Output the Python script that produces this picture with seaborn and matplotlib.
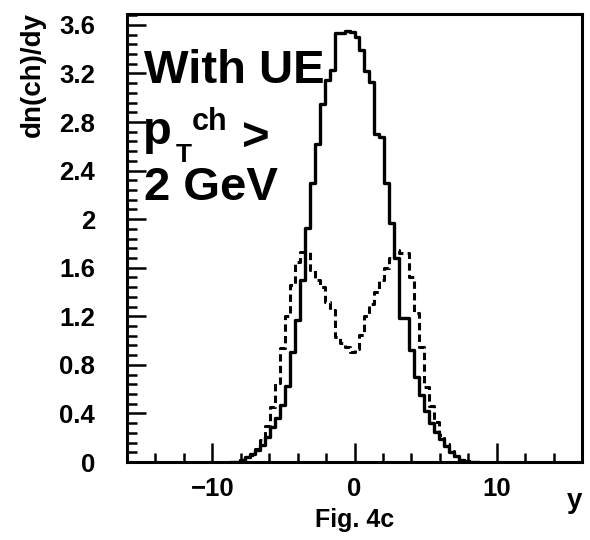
import numpy as np
import pandas as pd
import matplotlib
matplotlib.use("Agg")
import matplotlib.pyplot as plt
import seaborn as sns
from matplotlib.ticker import MultipleLocator

# ---------------- data ----------------
bin_edges = [round(k * 0.35, 3) for k in range(-25, 26)]          # 50 bins of width 0.35
bin_centers = [round((a + b) / 2, 4) for a, b in zip(bin_edges[:-1], bin_edges[1:])]

solid_curve = [0.00, 0.00, 0.02, 0.04, 0.07, 0.10, 0.14, 0.21, 0.29, 0.36,
               0.47, 0.63, 0.91, 1.17, 1.50, 1.93, 2.30, 2.62, 2.95, 3.15,
               3.23, 3.53, 3.53, 3.55, 3.54, 3.50, 3.39, 3.22, 3.13, 2.70,
               2.68, 2.30, 1.97, 1.68, 1.19, 1.19, 0.92, 0.70, 0.55, 0.42,
               0.32, 0.25, 0.19, 0.13, 0.08, 0.05, 0.02, 0.01, 0.00, 0.00]

dashed_curve = [0.00, 0.00, 0.02, 0.04, 0.06, 0.11, 0.18, 0.30, 0.45, 0.65,
                0.94, 1.20, 1.46, 1.65, 1.73, 1.73, 1.58, 1.50, 1.44, 1.32,
                1.25, 1.03, 0.98, 0.95, 0.91, 0.93, 1.05, 1.20, 1.30, 1.40,
                1.50, 1.60, 1.68, 1.75, 1.72, 1.72, 1.52, 1.23, 0.95, 0.62,
                0.46, 0.33, 0.22, 0.15, 0.09, 0.05, 0.02, 0.01, 0.00, 0.00]

x_tick_values = [-10, 0, 10]
x_tick_labels = ["\u221210", "0", "10"]
y_tick_values = [0, 0.4, 0.8, 1.2, 1.6, 2.0, 2.4, 2.8, 3.2, 3.6]
y_tick_labels = ["0", "0.4", "0.8", "1.2", "1.6", "2", "2.4", "2.8", "3.2", "3.6"]

df = pd.DataFrame({"y": bin_centers, "solid": solid_curve, "dashed": dashed_curve})

# ---------------- figure ----------------
sns.set_style("white")
plt.rcParams["font.family"] = ["Liberation Sans", "DejaVu Sans"]
plt.rcParams["text.color"] = "black"

W, H = 590, 540
fig = plt.figure(figsize=(W / 100, H / 100), dpi=100)
ax = fig.add_axes([127 / W, 78 / H, 455 / W, 448 / H])

sns.histplot(x=df["y"], weights=df["solid"], bins=bin_edges, element="step",
             fill=False, color="black", linewidth=2.4, ax=ax)
sns.histplot(x=df["y"], weights=df["dashed"], bins=bin_edges, element="step",
             fill=False, color="black", linewidth=2.2, linestyle=(0, (2.4, 1.4)), ax=ax)

ax.set_xlim(-16, 16)
ax.set_ylim(0, 3.69)
ax.set_xticks(x_tick_values)
ax.set_xticklabels(x_tick_labels)
ax.set_yticks(y_tick_values)
ax.set_yticklabels(y_tick_labels)
ax.xaxis.set_minor_locator(MultipleLocator(2))
ax.yaxis.set_minor_locator(MultipleLocator(0.08))
ax.tick_params(which="both", direction="in", bottom=True, left=True, top=False, right=False,
               color="black", width=1.8, labelsize=18.5, labelcolor="black")
ax.tick_params(axis="y", which="major", length=14, pad=23)
ax.tick_params(axis="y", which="minor", length=7)
ax.tick_params(axis="x", which="major", length=14, pad=11)
ax.tick_params(axis="x", which="minor", length=6.5)
for lab in ax.get_xticklabels() + ax.get_yticklabels():
    lab.set_fontweight("bold")
ax.set_xlabel("")
ax.set_ylabel("")
for s in ax.spines.values():
    s.set_visible(True)
    s.set_linewidth(2.2)
    s.set_color("black")


def px(x, y):
    return x / W, 1 - y / H


# axis labels as in the scanned figure
fig.text(*px(33, 12), "dn(ch)/dy", rotation=90, ha="center", va="top", fontsize=20,
         fontweight="bold")
fig.text(*px(575, 508), "y", ha="center", va="baseline", fontsize=20, fontweight="bold")
fig.text(*px(355, 527), "Fig. 4c", ha="center", va="baseline", fontsize=18,
         fontweight="bold")

# overlaid annotation
bold = dict(fontweight="bold", color="black", va="baseline", ha="left")
fig.text(*px(144, 83), "With UE", fontsize=34, **bold)
fig.text(*px(143, 144), "p", fontsize=34, **bold)
fig.text(*px(176, 162), "T", fontsize=19, **bold)
fig.text(*px(192, 130), "ch", fontsize=22, **bold)
fig.text(*px(242, 151), ">", fontsize=34, **bold)
fig.text(*px(144, 200), "2 GeV", fontsize=34, **bold)

fig.savefig("out.png", dpi=100, facecolor="white")
